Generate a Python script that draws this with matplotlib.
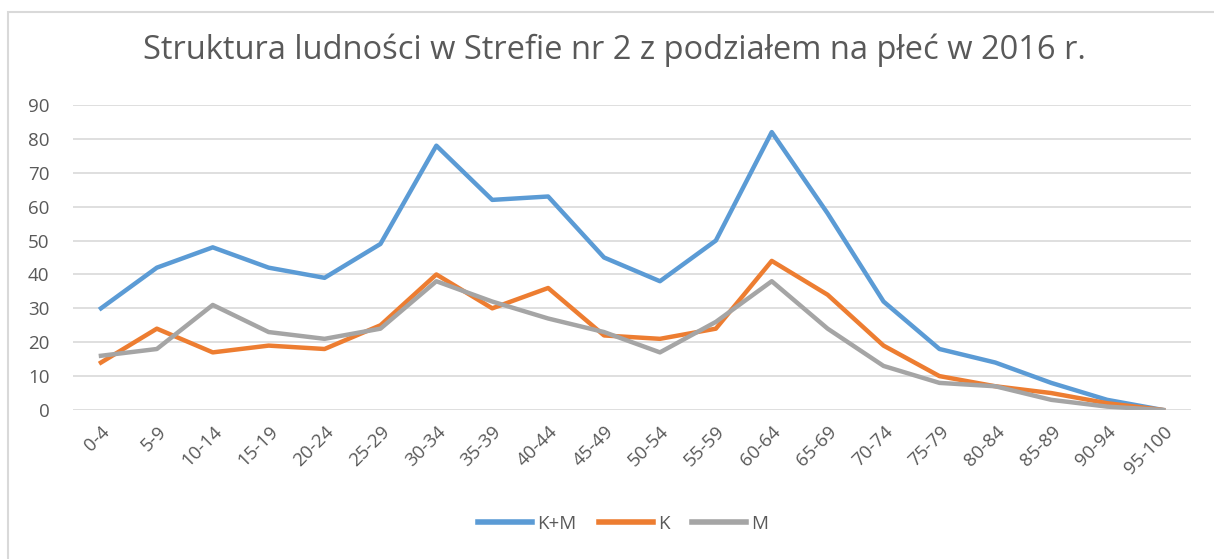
import matplotlib.pyplot as plt
from matplotlib.patches import Rectangle

age_groups = ['0-4', '5-9', '10-14', '15-19', '20-24', '25-29', '30-34', '35-39',
              '40-44', '45-49', '50-54', '55-59', '60-64', '65-69', '70-74', '75-79',
              '80-84', '85-89', '90-94', '95-100']
total = [30, 42, 48, 42, 39, 49, 78, 62, 63, 45, 38, 50, 82, 58, 32, 18, 14, 8, 3, 0]
women = [14, 24, 17, 19, 18, 25, 40, 30, 36, 22, 21, 24, 44, 34, 19, 10, 7, 5, 2, 0]
men = [16, 18, 31, 23, 21, 24, 38, 32, 27, 23, 17, 26, 38, 24, 13, 8, 7, 3, 1, 0]

plt.rcParams['font.family'] = ['Open Sans', 'DejaVu Sans']
text_color = '#595959'

fig = plt.figure(figsize=(12.14, 5.59), dpi=100)
# chart frame (cropped on the right and bottom)
fig.patches.append(Rectangle((8 / 1214, -0.05), 1.2, 1 - 12 / 559 + 0.05,
                             transform=fig.transFigure, fill=False,
                             edgecolor='#D9D9D9', linewidth=1.5))

ax = fig.add_axes([73 / 1214, 1 - 410 / 559, (1191 - 73) / 1214, (410 - 105) / 559])
x = range(len(age_groups))
ax.plot(x, total, color='#5B9BD5', linewidth=3.2, label='K+M', solid_joinstyle='round')
ax.plot(x, women, color='#ED7D31', linewidth=3.2, label='K', solid_joinstyle='round')
ax.plot(x, men, color='#A5A5A5', linewidth=3.2, label='M', solid_joinstyle='round')

ax.set_xlim(-0.5, len(age_groups) - 0.5)
ax.set_ylim(0, 90)
ax.set_yticks(range(0, 91, 10))
ax.set_xticks(list(x))
ax.set_xticklabels(age_groups, rotation=45, ha='right', rotation_mode='anchor')
ax.tick_params(axis='both', length=0, colors=text_color, labelsize=13.5)
ax.tick_params(axis='y', pad=17)
ax.tick_params(axis='x', pad=9)
ax.grid(axis='y', color='#D9D9D9', linewidth=1.2)
ax.set_axisbelow(True)
for s in ax.spines.values():
    s.set_visible(False)

fig.text(0.506, 1 - 50 / 559, 'Struktura ludności w Strefie nr 2 z podziałem na płeć w 2016 r.',
         ha='center', va='center', fontsize=23.5, color=text_color)

leg = fig.legend(loc='center', bbox_to_anchor=(0.513, 1 - 524 / 559), ncol=3, frameon=False,
                 fontsize=13.5, handlelength=2.9, columnspacing=1.2, handletextpad=0.25)
for t in leg.get_texts():
    t.set_color(text_color)
for h in leg.get_lines():
    h.set_linewidth(4)

fig.savefig('out.png', dpi=100)
